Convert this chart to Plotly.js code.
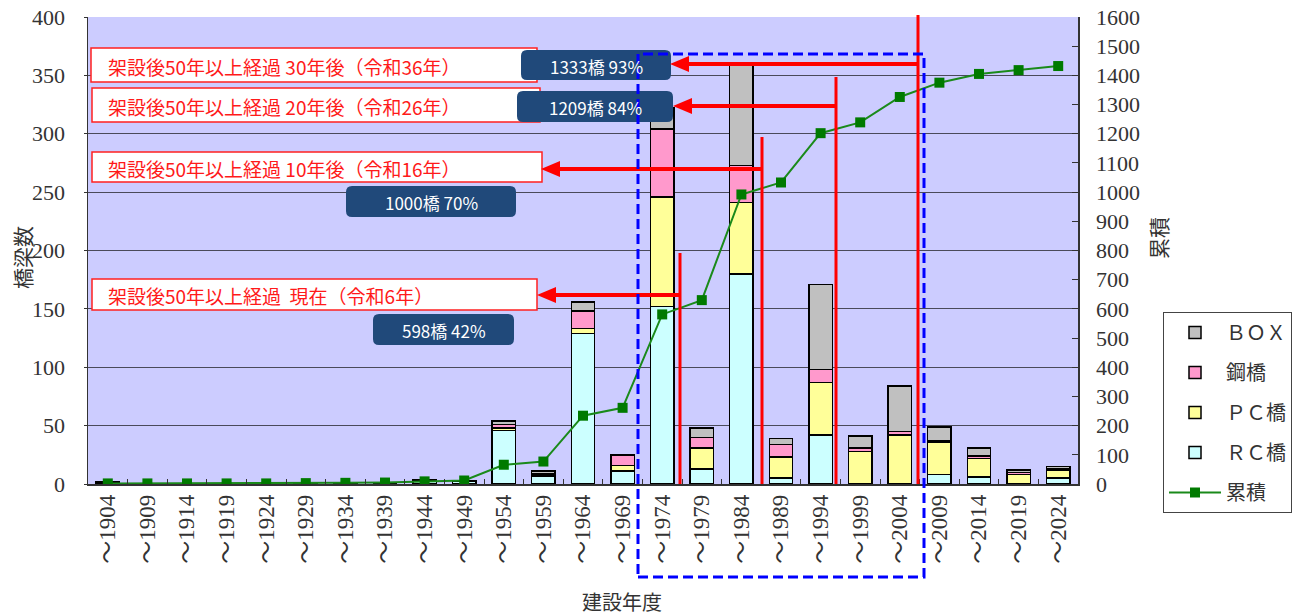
<!DOCTYPE html>
<html><head><meta charset="utf-8">
<script src="https://cdn.plot.ly/plotly-3.0.1.min.js"></script>
<style>html,body{margin:0;padding:0;background:#fff}#chart{width:1313px;height:616px}</style>
</head><body><div id="chart"></div>
<script>
// ---- data ----
const categories = ["～1904","～1909","～1914","～1919","～1924","～1929","～1934","～1939","～1944","～1949","～1954","～1959","～1964","～1969","～1974","～1979","～1984","～1989","～1994","～1999","～2004","～2009","～2014","～2019","～2024"];
const rcBridges    = [1,0,0,0,0,0,0,0,2,2,46,7,129,11,152,13,180,5,42,0,0,8,6,0,5];
const pcBridges    = [0,0,0,0,0,0,0,0,0,0,2,1,4,5,94,18,61,18,45,28,42,28,16,8,7];
const steelBridges = [1,0,0,0,0,1,1,1,1,1,3,1,15,9,58,9,32,11,11,3,3,1,2,2,1];
const boxCulverts  = [0,0,0,0,0,0,0,0,1,0,3,2,8,0,18,8,88,5,73,10,39,12,7,2,2];
const cumulative   = [2,2,2,2,2,3,4,5,9,12,66,77,234,261,581,630,992,1033,1202,1239,1326,1375,1405,1418,1432];
const seriesNames  = ["ＲＣ橋","ＰＣ橋","鋼橋","ＢＯＸ","累積"];
const leftTitle = "橋梁数", rightTitle = "累積", xTitle = "建設年度";
const milestoneLabels = ["架設後50年以上経過 30年後（令和36年）","架設後50年以上経過 20年後（令和26年）","架設後50年以上経過 10年後（令和16年）","架設後50年以上経過  現在（令和6年）"];
const milestoneCounts = ["1333橋 93%","1209橋 84%","1000橋 70%","598橋 42%"];

// ---- geometry helpers (pixel -> paper) ----
const L=88, R=1078, T=17, B=484;
const px = X => (X-L)/(R-L);
const py = Y => (B-Y)/(B-T);

const barLine = {color:'#000', width:1.5};
const serif = "Liberation Serif, 'Noto Sans CJK JP', serif";
const gothic = "'Noto Sans CJK JP', sans-serif";

const traces = [
  {type:'bar', name:seriesNames[0], x:categories, y:rcBridges, marker:{color:'#ccffff', line:barLine}, legendrank:4, legendgroup:'a'},
  {type:'bar', name:seriesNames[1], x:categories, y:pcBridges, marker:{color:'#ffff99', line:barLine}, legendrank:3, legendgroup:'b'},
  {type:'bar', name:seriesNames[2], x:categories, y:steelBridges, marker:{color:'#ff99cc', line:barLine}, legendrank:2, legendgroup:'c'},
  {type:'bar', name:seriesNames[3], x:categories, y:boxCulverts, marker:{color:'#c0c0c0', line:barLine}, legendrank:1, legendgroup:'d'},
  {type:'scatter', mode:'lines+markers', name:seriesNames[4], x:categories, y:cumulative, yaxis:'y2',
   line:{color:'#1a8a1a', width:2}, marker:{symbol:'square', size:10, color:'#007a00'}, legendrank:5, legendgroup:'e'}
];

const shapes = [];
const annotations = [];
function rect(x0,y0,x1,y1,fill,lc,lw){ shapes.push({type:'rect',xref:'paper',yref:'paper',x0:px(x0),x1:px(x1),y0:py(y1),y1:py(y0),fillcolor:fill,line:{color:lc,width:lw},layer:'above'}); }
function rrect(x0,y0,x1,y1,r,fill){
  const p=(X,Y)=>px(X)+','+py(Y);
  const d='M'+p(x0+r,y0)+' L'+p(x1-r,y0)+' Q'+p(x1,y0)+' '+p(x1,y0+r)+' L'+p(x1,y1-r)+' Q'+p(x1,y1)+' '+p(x1-r,y1)+
    ' L'+p(x0+r,y1)+' Q'+p(x0,y1)+' '+p(x0,y1-r)+' L'+p(x0,y0+r)+' Q'+p(x0,y0)+' '+p(x0+r,y0)+' Z';
  shapes.push({type:'path',xref:'paper',yref:'paper',path:d,fillcolor:fill,line:{width:0},layer:'above'});
}
function line(x0,y0,x1,y1,c,w,dash){ shapes.push({type:'line',xref:'paper',yref:'paper',x0:px(x0),x1:px(x1),y0:py(y0),y1:py(y1),line:{color:c,width:w,dash:dash||'solid'},layer:'above'}); }
function head(tx,ty){
  const p=(X,Y)=>px(X)+','+py(Y);
  shapes.push({type:'path',xref:'paper',yref:'paper',path:'M'+p(tx,ty)+' L'+p(tx+19,ty-8)+' L'+p(tx+19,ty+8)+' Z',fillcolor:'#ff0000',line:{width:0},layer:'above'});
}
function text(t,X,Y,opts){ annotations.push(Object.assign({text:t,xref:'paper',yref:'paper',x:px(X),y:py(Y),showarrow:false,xanchor:'center',yanchor:'middle'},opts)); }

// red label boxes
const redBoxes=[[91,48,537,82],[92,88,540,122],[92,152,542,182],[92,279,537,310]];
redBoxes.forEach((b,i)=>{ rect(b[0],b[1],b[2],b[3],'#ffffff','#ff2020',1.5);
  text(milestoneLabels[i],106,(b[1]+b[3])/2+1,{xanchor:'left',yanchor:'middle',font:{family:gothic,size:19,color:'#ff1a1a'}}); });
// blue count boxes
const blueBoxes=[[521,50,671,80],[517,91,673,122],[346,186,516,217],[373,314,514,345]];
blueBoxes.forEach((b,i)=>{ rrect(b[0],b[1],b[2],b[3],6,'#20497a');
  text(milestoneCounts[i],(b[0]+b[2])/2,(b[1]+b[3])/2+1,{font:{family:gothic,size:17,color:'#ffffff'}}); });
// vertical red lines and arrows
[[680,253],[762,137],[836,77],[918,15]].forEach(v=>line(v[0],v[1],v[0],B,'#ff0000',3));
[[670,64,918],[673,106,836],[541,169,762],[537,295,680]].forEach(a=>{ line(a[0]+15,a[1],a[2],a[1],'#ff0000',4); head(a[0],a[1]); });
// blue dashed frame
shapes.push({type:'rect',xref:'paper',yref:'paper',x0:px(638),x1:px(924),y0:py(577),y1:py(54),line:{color:'#0000ff',width:3,dash:'10px,5px'},fillcolor:'rgba(0,0,0,0)',layer:'above'});

// axis titles
text(leftTitle,22,258,{textangle:-90,font:{family:gothic,size:21,color:'#333'}});
text(rightTitle,1158,238,{textangle:-90,font:{family:gothic,size:21,color:'#333'}});
text(xTitle,622,601,{font:{family:gothic,size:20,color:'#333'}});

const layout = {
  width:1313, height:616,
  margin:{l:L, r:1313-R, t:T, b:616-B, pad:0},
  paper_bgcolor:'#ffffff', plot_bgcolor:'#ccccff',
  barmode:'stack', bargap:0.41,
  font:{family:serif, color:'#333'},
  xaxis:{type:'category', range:[-0.5, categories.length-0.5], tickangle:-90, tickfont:{family:serif,size:23,color:'#333'},
    ticks:'inside', tickson:'boundaries', ticklen:5, tickcolor:'#333',
    showline:true, linecolor:'#333', linewidth:1.5, showgrid:false, fixedrange:true},
  yaxis:{range:[0,400], dtick:50, tick0:0, showgrid:true, gridcolor:'#4a4a5a', gridwidth:1,
    showline:true, linecolor:'#333', linewidth:1.5, ticks:'outside', ticklen:3, tickcolor:'#333',
    tickfont:{family:serif,size:22,color:'#333'}, zeroline:false, ticklabelstandoff:14},
  yaxis2:{range:[0,1600], dtick:100, tick0:0, overlaying:'y', side:'right', showgrid:false,
    showline:true, linecolor:'#333', linewidth:1.5, ticks:'inside', ticklen:6, tickcolor:'#333',
    tickfont:{family:serif,size:22,color:'#333'}, zeroline:false, ticklabelstandoff:12},
  legend:{x:px(1163), y:py(312), xanchor:'left', yanchor:'top', traceorder:'grouped', tracegroupgap:11,
    bgcolor:'#ffffff', bordercolor:'#444', borderwidth:1, font:{family:serif,size:20,color:'#333'}, itemwidth:52},
  showlegend:true,
  shapes:shapes, annotations:annotations
};
Plotly.newPlot('chart', traces, layout, {displayModeBar:false, staticPlot:true});
</script></body></html>
